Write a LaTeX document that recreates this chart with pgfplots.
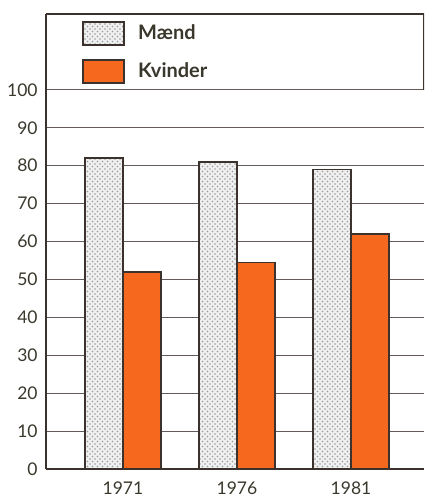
\documentclass[border=0pt]{standalone}
\usepackage{pgfplots}
\pgfplotsset{compat=1.18}
\usetikzlibrary{patterns}
\usepackage{fontspec}
\setmainfont{Lato}
\definecolor{kvinde}{RGB}{245,104,30}
\definecolor{txt}{RGB}{58,56,44}
\definecolor{edge}{RGB}{60,50,45}

\begin{document}
\begin{tikzpicture}[x=1pt,y=1pt]
\path[use as bounding box] (-27.6,-18) rectangle ++(255,299.4);
\begin{axis}[
    at={(0,0)}, anchor=south west,
    scale only axis,
    width=226.8pt, height=273pt,
    xmin=-0.675, xmax=2.64,
    ymin=0, ymax=120,
    axis x line*=bottom,
    axis y line*=left,
    axis line style={line width=1.2pt, color=edge, -},
    ytick={0,10,...,100},
    xtick={0,1,2},
    xticklabels={1971,1976,1981},
    major tick length=0pt,
    ymajorgrids,
    grid style={line width=0.7pt, color=edge!80},
    ticklabel style={font=\fontsize{10.5}{12}\selectfont, color=txt},
    /pgf/number format/assume math mode=true,
    yticklabel style={xshift=-1.5pt},
    xticklabel style={yshift=-4pt},
    ybar=0pt,
    bar width=0.333,
    legend image code/.code={\draw[#1] (0pt,-6.9pt) rectangle (24.6pt,6.9pt);},
    legend cell align=left,
    legend style={draw=none, fill=none, at={(0.095,0.985)}, anchor=north west,
        font=\bfseries\fontsize{12}{14}\selectfont, text=txt, row sep=8pt, inner sep=0pt,
        /tikz/every odd column/.append style={column sep=6pt}},
]
\addplot[draw=edge, line width=1pt, fill=gray!12,
    postaction={pattern=crosshatch dots, pattern color=gray!80}]
    coordinates {(0,82) (1,81) (2,79)};
\addlegendentry{Mænd}
\addplot[draw=edge, line width=1pt, fill=kvinde]
    coordinates {(0,52) (1,54.5) (2,62)};
\addlegendentry{Kvinder}
\draw[line width=1.2pt, color=edge] (rel axis cs:0,1) -- (rel axis cs:1,1) -- (axis cs:2.64,100);
\end{axis}
\end{tikzpicture}
\end{document}
